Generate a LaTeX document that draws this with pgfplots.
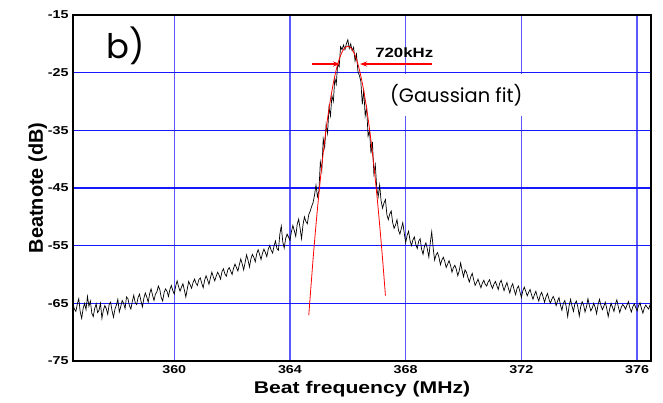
\documentclass[border=0pt]{standalone}
\usepackage{fontspec}
\usepackage{pgfplots}
\pgfplotsset{compat=1.18}
\usetikzlibrary{arrows.meta}
\setmainfont{Liberation Sans}
\newfontfamily\stretchfont[FakeStretch=1.25]{Liberation Sans}
\newfontfamily\gothic{Poppins}
\begin{document}
\begin{tikzpicture}
\begin{axis}[
  name=ax,
  scale only axis,
  width=578bp, height=346bp,
  xmin=356.5, xmax=376.48,
  ymin=-75, ymax=-15,
  xtick={360,364,368,372,376},
  xticklabels={360,364,368,372,376},
  ytick={-75,-65,-55,-45,-35,-25,-15},
  yticklabels={-75,-65,-55,-45,-35,-25,-15},
  major tick length=0pt,
  grid=major,
  major x grid style={draw=blue!65, line width=1.3bp},
  major y grid style={draw=blue!90, line width=1.1bp},
  axis line style={line width=1.6bp},
  tick label style={font=\stretchfont\bfseries\fontsize{11.5}{13}\selectfont},
  xticklabel style={yshift=-1bp},
  yticklabel style={xshift=-1bp},
  xlabel={\stretchfont\bfseries\fontsize{17}{19}\selectfont Beat frequency (MHz)},
  ylabel={\bfseries\fontsize{20}{22}\selectfont Beatnote (dB)},
  xlabel style={yshift=-1bp},
  ylabel style={yshift=-6bp},
  clip=true,
]
\addplot[black, line width=0.7bp] coordinates {
(356.5,-65.2) (356.55,-66.0) (356.6,-66.4) (356.65,-65.1) (356.7,-64.2) (356.75,-66.5) (356.8,-67.6) (356.85,-65.9) (356.9,-65.0)
(356.95,-66.1) (357.0,-63.8) (357.05,-65.5) (357.1,-64.6) (357.15,-66.7) (357.2,-67.3) (357.25,-65.9) (357.3,-65.1) (357.35,-66.6) (357.4,-66.2)
(357.45,-65.0) (357.5,-67.6) (357.55,-66.2) (357.6,-65.4) (357.65,-65.9) (357.7,-66.9) (357.75,-65.2) (357.8,-64.8) (357.85,-66.3) (357.9,-67.4)
(357.95,-66.0) (358.0,-65.3) (358.05,-64.3) (358.1,-66.5) (358.15,-65.6) (358.2,-64.5) (358.25,-65.0) (358.3,-65.9) (358.35,-63.9) (358.4,-64.2)
(358.45,-65.4) (358.5,-66.0) (358.55,-64.7) (358.6,-63.6) (358.65,-64.9) (358.7,-65.2) (358.75,-64.0) (358.8,-63.4) (358.85,-64.6) (358.9,-65.6)
(358.95,-64.1) (359.0,-63.2) (359.05,-63.9) (359.1,-64.8) (359.15,-63.3) (359.2,-62.5) (359.25,-63.6) (359.3,-64.5) (359.35,-63.4) (359.4,-63.0)
(359.45,-62.0) (359.5,-62.6) (359.55,-64.0) (359.6,-64.6) (359.65,-63.1) (359.7,-62.5) (359.75,-62.9) (359.8,-63.8) (359.85,-62.6) (359.9,-61.9)
(359.95,-62.8) (360.0,-63.4) (360.05,-62.0) (360.1,-61.1) (360.15,-62.1) (360.2,-62.9) (360.25,-62.2) (360.3,-61.6) (360.35,-62.7) (360.4,-63.9)
(360.45,-62.5) (360.5,-61.2) (360.55,-61.8) (360.6,-62.4) (360.65,-61.4) (360.7,-60.8) (360.75,-61.5) (360.8,-61.9) (360.85,-60.9) (360.9,-60.6)
(360.95,-61.5) (361.0,-62.3) (361.05,-61.0) (361.1,-60.2) (361.15,-60.9) (361.2,-61.7) (361.25,-60.6) (361.3,-59.6) (361.35,-60.4) (361.4,-61.1)
(361.45,-60.3) (361.5,-59.6) (361.55,-60.1) (361.6,-60.8) (361.65,-59.5) (361.7,-59.0) (361.75,-59.9) (361.8,-60.3) (361.85,-59.2) (361.9,-58.8)
(361.95,-59.4) (362.0,-60.0) (362.05,-58.9) (362.1,-58.2) (362.15,-58.8) (362.2,-59.4) (362.25,-58.3) (362.3,-57.3) (362.35,-58.2) (362.4,-59.2)
(362.45,-57.9) (362.5,-56.6) (362.55,-57.5) (362.6,-58.7) (362.65,-57.3) (362.7,-56.5) (362.75,-57.0) (362.8,-57.8) (362.85,-56.4) (362.9,-55.7)
(362.95,-56.5) (363.0,-57.4) (363.05,-56.3) (363.1,-55.6) (363.15,-56.2) (363.2,-56.9) (363.25,-55.6) (363.3,-55.0) (363.35,-55.8) (363.4,-56.3)
(363.45,-55.0) (363.5,-54.2) (363.55,-55.5) (363.6,-55.8) (363.65,-53.0) (363.7,-51.6) (363.75,-54.3) (363.8,-55.4) (363.85,-53.8) (363.9,-53.0)
(363.95,-53.5) (364.0,-54.1) (364.05,-52.6) (364.1,-51.5) (364.15,-52.4) (364.2,-53.4) (364.25,-51.3) (364.3,-50.4) (364.35,-52.0) (364.4,-53.8)
(364.45,-51.4) (364.5,-50.0) (364.55,-50.8) (364.6,-51.2) (364.65,-49.6) (364.7,-49.0) (364.75,-48.2) (364.8,-47.5) (364.85,-46.2) (364.9,-44.5)
(364.95,-46.5) (365.0,-45.5) (365.05,-40.5) (365.1,-42.0) (365.15,-36.5) (365.2,-38.0)
(365.25,-34.0) (365.3,-35.5) (365.35,-31.0) (365.4,-32.5) (365.45,-29.0)
(365.5,-30.0) (365.55,-26.0) (365.6,-27.0) (365.65,-23.5) (365.7,-24.0)
(365.75,-20.5) (365.8,-21.0) (365.85,-20.2) (365.9,-21.0) (365.95,-20.0)
(366.0,-19.3) (366.05,-20.8) (366.1,-20.0) (366.15,-21.2) (366.2,-20.6)
(366.25,-23.0) (366.3,-21.8) (366.35,-24.8) (366.4,-25.5) (366.45,-26.5)
(366.5,-30.5) (366.55,-28.0) (366.6,-32.5) (366.65,-31.0) (366.7,-36.0)
(366.75,-35.0) (366.8,-39.0) (366.85,-37.0) (366.9,-42.5) (366.95,-41.0)
(367.0,-45.0) (367.05,-46.5) (367.1,-44.5) (367.15,-47.2) (367.2,-48.5) (367.25,-47.6) (367.3,-47.0) (367.35,-49.6) (367.4,-50.5)
(367.45,-49.5) (367.5,-49.0) (367.55,-51.0) (367.6,-52.0) (367.65,-51.4) (367.7,-50.5) (367.75,-52.3) (367.8,-53.0) (367.85,-52.0) (367.9,-51.0)
(367.95,-52.8) (368.0,-54.5) (368.05,-53.2) (368.1,-52.5) (368.15,-54.1) (368.2,-55.0) (368.25,-54.0) (368.3,-53.5) (368.35,-54.8) (368.4,-55.5)
(368.45,-54.2) (368.5,-53.8) (368.55,-55.6) (368.6,-56.5) (368.65,-55.1) (368.7,-54.5) (368.75,-55.6) (368.8,-57.0) (368.85,-54.5) (368.9,-52.6)
(368.95,-55.4) (369.0,-57.5) (369.05,-56.6) (369.1,-56.2) (369.15,-57.0) (369.2,-58.3) (369.25,-57.5) (369.3,-57.0) (369.35,-57.7) (369.4,-58.8)
(369.45,-58.2) (369.5,-57.6) (369.55,-58.4) (369.6,-59.6) (369.65,-58.8) (369.7,-58.4) (369.75,-59.1) (369.8,-60.2) (369.85,-59.4) (369.9,-58.0)
(369.95,-59.3) (370.0,-60.4) (370.05,-59.2) (370.1,-59.6) (370.15,-60.5) (370.2,-61.3) (370.25,-60.4) (370.3,-59.8) (370.35,-60.9) (370.4,-61.9)
(370.45,-61.4) (370.5,-60.8) (370.55,-61.6) (370.6,-62.3) (370.65,-61.5) (370.7,-61.0) (370.75,-61.7) (370.8,-62.0) (370.85,-61.3) (370.9,-60.9)
(370.95,-61.8) (371.0,-62.4) (371.05,-61.7) (371.1,-61.2) (371.15,-61.9) (371.2,-62.6) (371.25,-61.5) (371.3,-61.0) (371.35,-61.9) (371.4,-62.8)
(371.45,-62.0) (371.5,-61.4) (371.55,-62.4) (371.6,-63.2) (371.65,-62.1) (371.7,-61.6) (371.75,-62.7) (371.8,-63.5) (371.85,-62.4) (371.9,-62.0)
(371.95,-63.0) (372.0,-64.0) (372.05,-62.8) (372.1,-62.2) (372.15,-62.9) (372.2,-63.7) (372.25,-63.1) (372.3,-62.6) (372.35,-63.5) (372.4,-64.3)
(372.45,-63.5) (372.5,-62.9) (372.55,-63.9) (372.6,-64.6) (372.65,-63.6) (372.7,-63.1) (372.75,-63.9) (372.8,-64.8) (372.85,-63.9) (372.9,-63.3)
(372.95,-64.2) (373.0,-65.0) (373.05,-64.3) (373.1,-63.8) (373.15,-64.4) (373.2,-65.4) (373.25,-64.6) (373.3,-64.0) (373.35,-65.3) (373.4,-66.2)
(373.45,-65.0) (373.5,-64.5) (373.55,-65.6) (373.6,-67.3) (373.65,-65.4) (373.7,-64.3) (373.75,-65.5) (373.8,-66.4) (373.85,-65.0) (373.9,-64.6)
(373.95,-65.6) (374.0,-67.2) (374.05,-65.6) (374.1,-64.7) (374.15,-65.3) (374.2,-66.5) (374.25,-65.6) (374.3,-64.2) (374.35,-65.4) (374.4,-66.3)
(374.45,-65.8) (374.5,-65.0) (374.55,-65.7) (374.6,-66.8) (374.65,-65.2) (374.7,-64.3) (374.75,-65.4) (374.8,-66.1) (374.85,-65.5) (374.9,-64.8)
(374.95,-65.9) (375.0,-67.3) (375.05,-66.0) (375.1,-65.0) (375.15,-65.7) (375.2,-66.4) (375.25,-65.1) (375.3,-64.4) (375.35,-65.6) (375.4,-66.6)
(375.45,-65.7) (375.5,-65.2) (375.55,-65.5) (375.6,-66.0) (375.65,-65.3) (375.7,-64.7) (375.75,-65.8) (375.8,-66.5) (375.85,-65.6) (375.9,-65.1)
(375.95,-65.7) (376.0,-66.3) (376.05,-65.4) (376.1,-64.9) (376.15,-65.9) (376.2,-66.7) (376.25,-65.8) (376.3,-65.3) (376.35,-65.7) (376.4,-66.0)
(376.45,-65.2) (376.5,-65.6)
};
\addplot[red, line width=0.8bp, smooth] coordinates {
(364.65,-67.06) (364.8,-57.26) (364.9,-51.38) (365.0,-46.0) (365.1,-41.14)
(365.2,-36.78) (365.3,-32.94) (365.4,-29.62) (365.5,-26.8) (365.6,-24.50)
(365.7,-22.7) (365.8,-21.42) (365.9,-20.66) (366.0,-20.4) (366.1,-20.66)
(366.2,-21.42) (366.3,-22.7) (366.4,-24.50) (366.5,-26.8) (366.6,-29.62)
(366.7,-32.94) (366.8,-36.78) (366.9,-41.14) (367.0,-46.0) (367.1,-51.38)
(367.2,-57.26) (367.3,-63.66)
};
\draw[red, line width=1.3bp, -{Stealth[length=7bp,width=5bp]}] (axis cs:364.76,-23.5) -- (axis cs:365.73,-23.5);
\draw[red, line width=1.3bp, -{Stealth[length=7bp,width=5bp]}] (axis cs:368.91,-23.5) -- (axis cs:366.42,-23.5);
\node[font=\stretchfont\bfseries\fontsize{13.5}{15}\selectfont] at (axis cs:367.95,-21.6) {720kHz};
\node[fill=white, inner xsep=2bp, inner ysep=10bp, font=\gothic\fontsize{19.5}{21}\selectfont] at (axis cs:369.75,-28.9) {(Gaussian fit)};
\node[font=\gothic\fontsize{34}{36}\selectfont] at (axis cs:358.33,-20.3) {b)};
\end{axis}
\pgfresetboundingbox
\path[use as bounding box] ([xshift=-73bp,yshift=-42bp]ax.south west) rectangle ([xshift=12bp,yshift=15bp]ax.north east);
\end{tikzpicture}
\end{document}
